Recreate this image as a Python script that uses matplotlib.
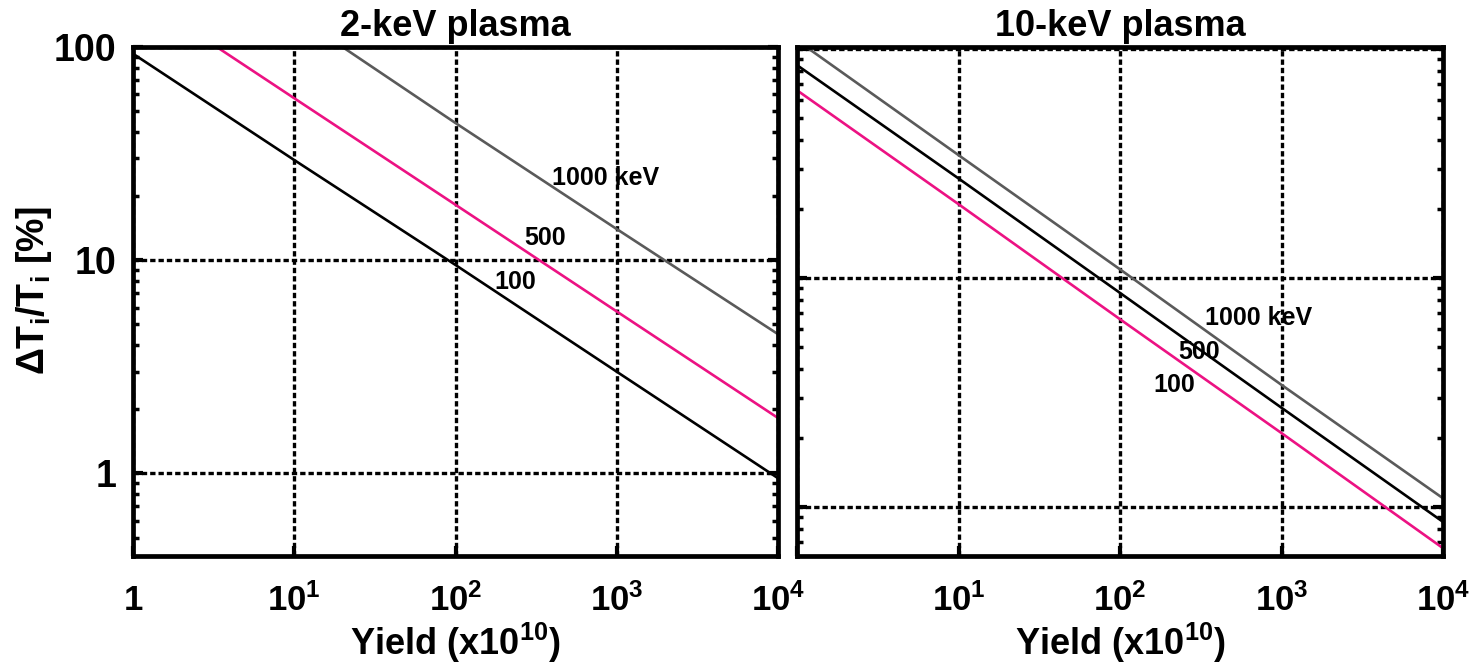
import matplotlib
matplotlib.use("Agg")
import matplotlib.pyplot as plt
from matplotlib.ticker import FixedLocator, LogLocator, NullFormatter

plt.rcParams['font.family'] = ['Liberation Sans', 'DejaVu Sans']
plt.rcParams['font.weight'] = 'bold'
plt.rcParams['mathtext.fontset'] = 'custom'
plt.rcParams['mathtext.rm'] = 'Liberation Sans:bold'
plt.rcParams['mathtext.it'] = 'Liberation Sans:bold'
plt.rcParams['mathtext.bf'] = 'Liberation Sans:bold'
plt.rcParams['mathtext.default'] = 'bf'

# ---- data ----
yields = [1, 10, 100, 1000, 10000]
left_100 = [93, 29.5, 9.5, 3.0, 0.95]
left_500 = [182, 57.5, 18.2, 5.75, 1.82]
left_1000 = [450, 142, 44, 14, 4.5]
right_100 = [66, 21.0, 6.6, 2.10, 0.66]
right_500 = [85, 27.2, 8.6, 2.71, 0.86]
right_1000 = [109, 34.4, 10.9, 3.41, 1.09]
titles = ["2-keV plasma", "10-keV plasma"]
xtick_vals = [1, 10, 100, 1000, 10000]
xtick_left = ["1", r"$10^{1}$", r"$10^{2}$", r"$10^{3}$", r"$10^{4}$"]
xtick_right = ["", r"$10^{1}$", r"$10^{2}$", r"$10^{3}$", r"$10^{4}$"]
ytick_vals = [1, 10, 100]
ytick_left = ["1", "10", "100"]
label_text = ["1000 keV", "500", "100"]
left_label_pos = [(398, 24.3), (267, 12.7), (174, 7.9)]
right_label_pos = [(336, 6.7), (229, 4.75), (160, 3.41)]

PINK = "#ec1283"
GRAY = "#5a5a5a"

W, H = 1474, 665
fig = plt.figure(figsize=(W / 100, H / 100), dpi=100)

def box(l, t, r, b):
    return [l / W, 1 - b / H, (r - l) / W, (b - t) / H]

axL = fig.add_axes(box(133, 47, 778, 556))
axR = fig.add_axes(box(797, 47, 1443, 556))

def style(ax, ylim):
    ax.set_xscale('log')
    ax.set_yscale('log')
    ax.set_xlim(1, 1e4)
    ax.set_ylim(*ylim)
    for s in ax.spines.values():
        s.set_linewidth(3.4)
    ax.xaxis.set_major_locator(FixedLocator(xtick_vals))
    ax.yaxis.set_major_locator(FixedLocator(ytick_vals))
    ax.xaxis.set_minor_locator(LogLocator(base=10, subs=range(2, 10), numticks=20))
    ax.yaxis.set_minor_locator(LogLocator(base=10, subs=range(2, 10), numticks=20))
    ax.xaxis.set_minor_formatter(NullFormatter())
    ax.yaxis.set_minor_formatter(NullFormatter())
    ax.tick_params(which='both', direction='in', left=True, right=True, top=False, bottom=True)
    ax.tick_params(axis='x', which='minor', bottom=False)
    ax.tick_params(which='major', length=7, width=3)
    ax.tick_params(axis='x', which='major', labelsize=25, pad=20)
    ax.tick_params(axis='y', which='major', labelsize=27, pad=12)
    ax.tick_params(which='minor', length=4, width=2.5)
    ax.grid(True, which='major', color='black', linestyle=(0, (1.6, 0.9)), linewidth=2.4)

style(axL, (0.41, 100))
style(axR, (0.61, 102))

lw = 1.9
axL.plot(yields, left_100, color='black', lw=lw)
axL.plot(yields, left_500, color=PINK, lw=lw)
axL.plot(yields, left_1000, color=GRAY, lw=lw)
axR.plot(yields, right_100, color=PINK, lw=lw)
axR.plot(yields, right_500, color='black', lw=lw)
axR.plot(yields, right_1000, color=GRAY, lw=lw)

axL.set_xticklabels(xtick_left)
axR.set_xticklabels(xtick_right)
axL.set_yticklabels(ytick_left)
axR.set_yticklabels([])

for ax, t in zip((axL, axR), titles):
    ax.set_title(t, fontsize=26, fontweight='bold', pad=8)
    ax.set_xlabel(r"Yield (x$10^{10}$)", fontsize=26, fontweight='bold', labelpad=2)

fig.text(34 / W, 1 - 290 / H, r"ΔT$_{i}$/T$_{i}$ [%]", fontsize=27, fontweight='bold',
         rotation=90, ha='center', va='center')

fs = 18
for txt, (x, y) in zip(label_text, left_label_pos):
    axL.text(x, y, txt, fontsize=fs, fontweight='bold', ha='left', va='center')
for txt, (x, y) in zip(label_text, right_label_pos):
    axR.text(x, y, txt, fontsize=fs, fontweight='bold', ha='left', va='center')

fig.savefig("out.png", dpi=100)
